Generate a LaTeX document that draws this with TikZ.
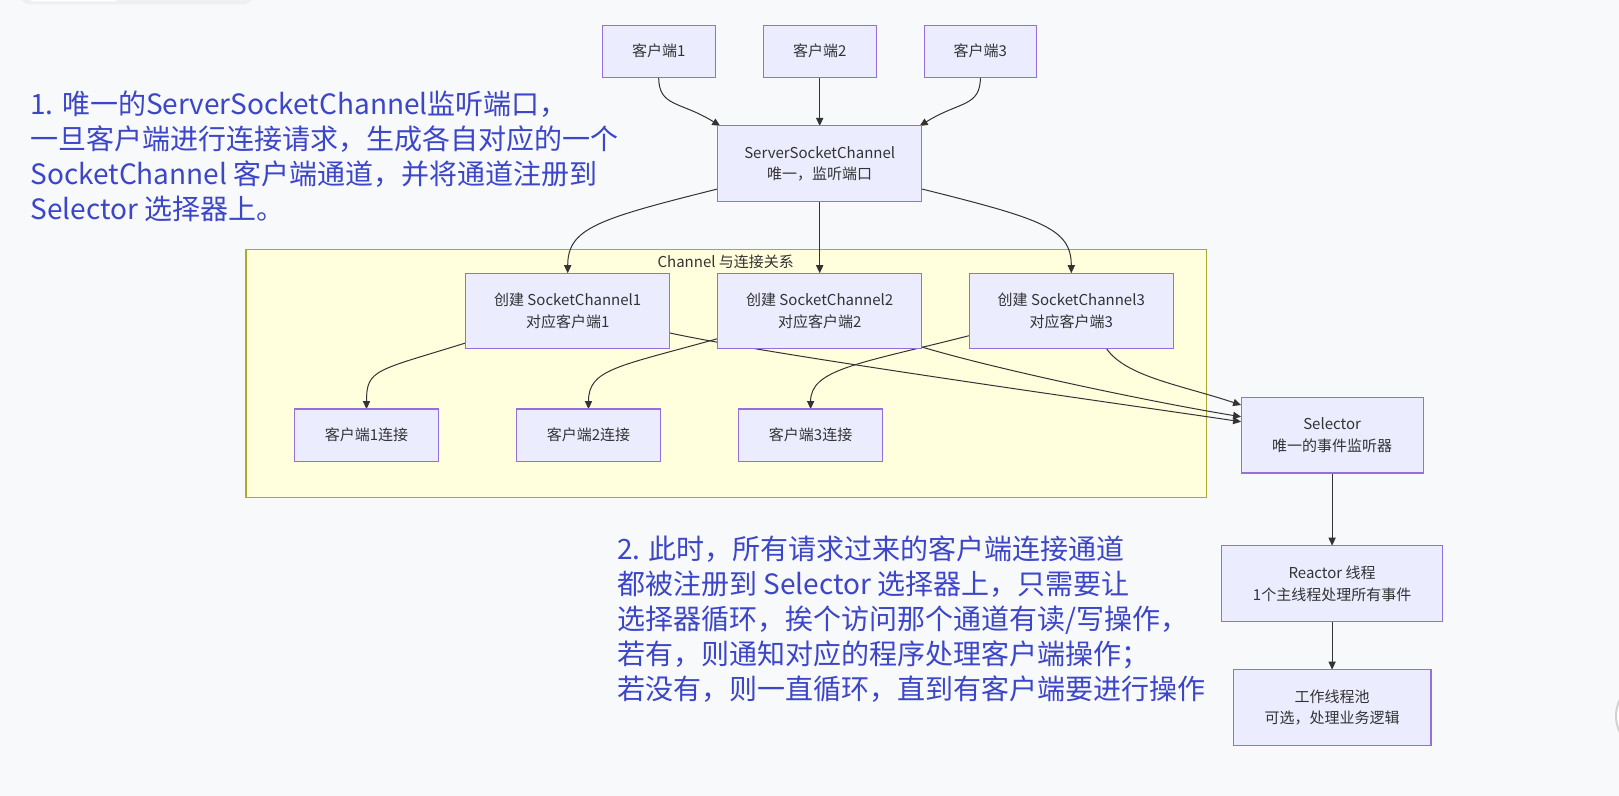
\documentclass[tikz,border=0pt]{standalone}
\usepackage{fontspec}
\setmainfont{Noto Sans CJK SC}
\usepackage{tikz}
\usetikzlibrary{arrows.meta,positioning,calc}
\definecolor{canvas}{RGB}{248,249,251}
\definecolor{boxfill}{RGB}{236,236,255}
\definecolor{boxline}{RGB}{147,112,219}
\definecolor{grpfill}{RGB}{255,255,222}
\definecolor{grpline}{RGB}{170,170,51}
\definecolor{ink}{RGB}{51,51,51}
\definecolor{noteblue}{RGB}{60,70,200}
\pgfdeclarelayer{back}
\pgfdeclarelayer{edges}
\pgfsetlayers{back,edges,main}
\tikzset{
  box/.style={draw=boxline, fill=boxfill, line width=0.55pt, align=center, text=ink,
              font=\fontsize{7.5}{10.85}\selectfont, inner sep=0pt, outer sep=0pt},
  small/.style={box, minimum width=56.35pt, minimum height=26pt},
  wide/.style={box, minimum width=102pt, minimum height=37.85pt},
  conn/.style={box, minimum width=72.2pt, minimum height=26.15pt},
  grp/.style={draw=grpline, fill=grpfill, line width=0.55pt, inner sep=0pt},
  note/.style={text=noteblue, align=left, inner sep=0pt, font=\fontsize{14}{17.5}\selectfont},
  flow/.style={-{Triangle[length=4pt,width=3.6pt]}, draw=ink, line width=0.5pt},
}

\begin{document}
\begin{tikzpicture}[x=0.5pt,y=-0.5pt]
\useasboundingbox (0,0) rectangle (1619,796);
\begin{pgfonlayer}{back}
\fill[canvas] (0,0) rectangle (1619,796);
\fill[gray!12, rounded corners=5pt] (20,-20) rectangle (253,4.5);
\fill[white, rounded corners=3pt] (28,-20) rectangle (120,1.5);
\fill[white, draw=gray!35, line width=1pt] (1652,716) circle[radius=18pt];
\node[grp, minimum width=480.35pt, minimum height=124pt] (grp) at (726.35,373.3) {};
\end{pgfonlayer}
\node[font=\fontsize{7.5}{9}\selectfont, text=ink, inner sep=0pt] (grplabel) at (725.8,261.7) {Channel 与连接关系};

% clients and the server channel
\node[wide] (ssc) at (819.7,163.8) {ServerSocketChannel\\唯一，监听端口};
\node[small, above=24.35pt of ssc] (c2) {客户端2};
\node[small, left=24.15pt of c2] (c1) {客户端1};
\node[small, right=24pt of c2] (c3) {客户端3};

% socket channels and connections
\node[wide, below=35.8pt of ssc] (sc2) {创建 SocketChannel2\\对应客户端2};
\node[wide, left=24pt of sc2] (sc1) {创建 SocketChannel1\\对应客户端1};
\node[wide, right=23.8pt of sc2] (sc3) {创建 SocketChannel3\\对应客户端3};
\node[conn] (k1) at (366.5,435.2) {客户端1连接};
\node[conn, right=38.8pt of k1] (k2) {客户端2连接};
\node[conn, right=38.85pt of k2] (k3) {客户端3连接};

% selector and threads
\node[wide, minimum width=91pt, right=179.15pt of k3] (sel) {Selector\\唯一的事件监听器};
\node[wide, minimum width=110.65pt, below=36.3pt of sel] (reactor) {Reactor 线程\\1个主线程处理所有事件};
\node[wide, minimum width=98.85pt, below=24.15pt of reactor] (worker) {工作线程池\\可选，处理业务逻辑};

\node[note, anchor=north west] (note1) at (30,90) {1. 唯一的ServerSocketChannel监听端口，\\一旦客户端进行连接请求，生成各自对应的一个\\SocketChannel 客户端通道，并将通道注册到\\Selector 选择器上。};
\node[note, anchor=north west] (note2) at (616.7,535) {2. 此时，所有请求过来的客户端连接通道\\都被注册到 Selector 选择器上，只需要让\\选择器循环，挨个访问那个通道有读/写操作，\\若有，则通知对应的程序处理客户端操作；\\若没有，则一直循环，直到有客户端要进行操作};

\begin{pgfonlayer}{edges}
\draw[flow] (c1.south) .. controls +(0,30) and +(-40,-25) .. ($(ssc.north west)+(2.5,0)$);
\draw[flow] (c2) -- (ssc);
\draw[flow] (c3.south) .. controls +(0,30) and +(40,-25) .. ($(ssc.north east)+(-2,0)$);
\draw[flow] ($(ssc.south west)+(0,-12.7)$) .. controls +(-120,30) and +(0,-45) .. (sc1.north);
\draw[flow] (ssc) -- (sc2);
\draw[flow] ($(ssc.south east)+(0,-12.7)$) .. controls +(120,30) and +(0,-45) .. (sc3.north);
\draw[flow] ($(sc1.south west)+(0,-6)$) .. controls +(-90,28) and +(0,-40) .. (k1.north);
\draw[flow] ($(sc2.south west)+(0,-10.3)$) .. controls +(-100,28) and +(0,-40) .. (k2.north);
\draw[flow] ($(sc3.south west)+(0,-13.3)$) .. controls +(-110,28) and +(0,-40) .. (k3.north);
\draw[flow] ($(sc1.south east)+(0,-16)$) .. controls +(100,22) and +(-100,-15) .. ($(sel.north west)+(0,24.4)$);
\draw[flow] ($(sc2.south east)+(0,-2)$) .. controls +(80,24) and +(-80,-13) .. ($(sel.north west)+(0,19.4)$);
\draw[flow] ($(sc3.south)+(35.4,0)$) .. controls +(20,28) and +(-60,-20) .. ($(sel.north west)+(0,7.7)$);
\draw[flow] (sel) -- (reactor);
\draw[flow] (reactor) -- (worker);
\end{pgfonlayer}
\end{tikzpicture}
\end{document}
